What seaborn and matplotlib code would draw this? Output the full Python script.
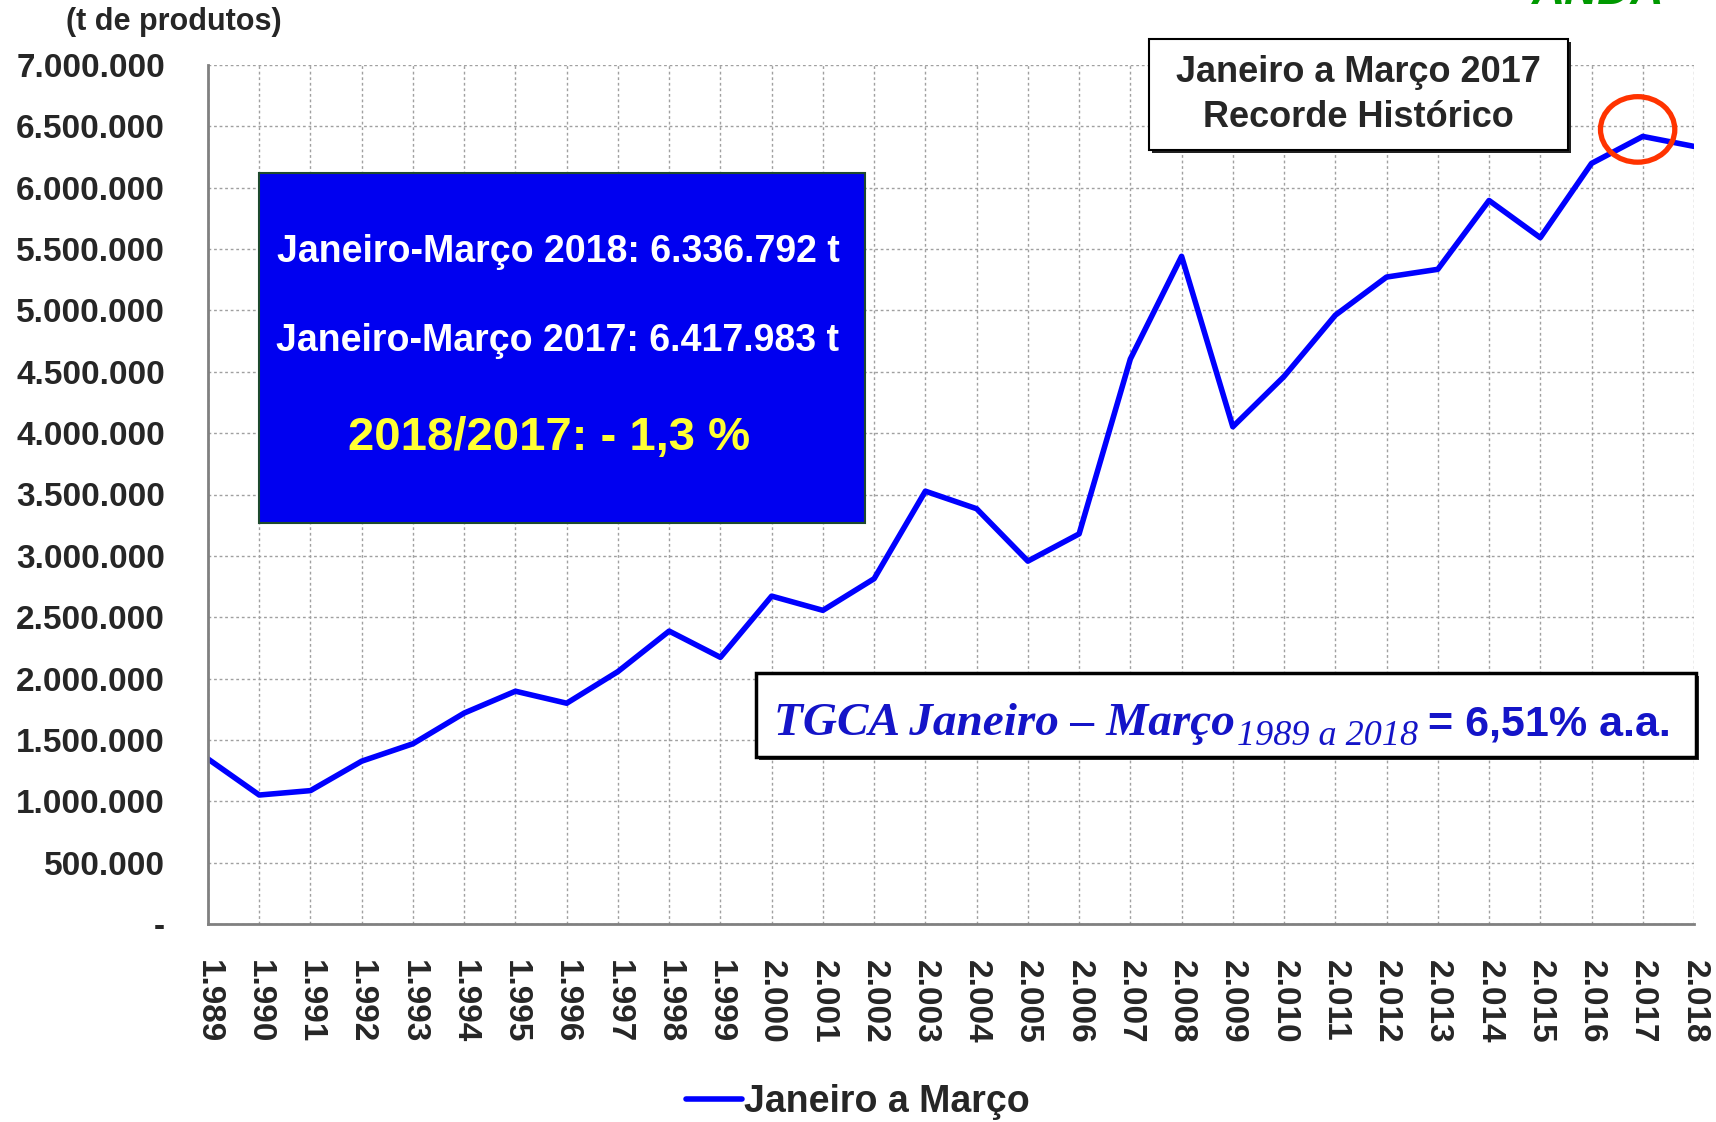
import matplotlib
matplotlib.use('Agg')
import matplotlib.pyplot as plt
import numpy as np
import pandas as pd
import seaborn as sns
from matplotlib import font_manager
from matplotlib.patches import Ellipse, Rectangle
from matplotlib.ticker import FuncFormatter, MultipleLocator

# data (t de produtos, janeiro a março)
years = list(range(1989, 2019))
toneladas = [1345000, 1051000, 1087000, 1327000, 1469000, 1719000, 1897000,
             1799000, 2057000, 2387000, 2173000, 2672000, 2556000, 2814000,
             3527000, 3384000, 2957000, 3179000, 4604000, 5441000, 4052000,
             4462000, 4961000, 5272000, 5335000, 5896000, 5593000, 6198000,
             6417983, 6336792]
serie_nome = 'Janeiro a Março'
txt_2018 = 'Janeiro-Março 2018: 6.336.792 t'
txt_2017 = 'Janeiro-Março 2017: 6.417.983 t'
txt_var = '2018/2017: - 1,3 %'
txt_recorde = 'Janeiro a Março 2017\nRecorde Histórico'

sns.set_style('white')
plt.rcParams['font.family'] = ['Liberation Sans', 'DejaVu Sans']
plt.rcParams['font.weight'] = 'bold'

names = {f.name for f in font_manager.fontManager.ttflist}
narrow = 'Liberation Sans Narrow' if 'Liberation Sans Narrow' in names else 'Liberation Sans'

W, H = 1716, 1122
fig = plt.figure(figsize=(W / 100, H / 100), dpi=100)
ax = fig.add_axes([208 / W, 1 - 924 / H, (1694 - 208) / W, (924 - 65) / H])

df = pd.DataFrame({'ano': years, 'valor': toneladas})
sns.lineplot(data=df, x='ano', y='valor', ax=ax, color='#0000FF', lw=4,
             label=serie_nome, legend=False)

ax.set_xlim(1989, 2018)
ax.set_ylim(0, 7000000)
ax.xaxis.set_major_locator(MultipleLocator(1))
ax.yaxis.set_major_locator(MultipleLocator(500000))


def fmt_y(v, pos):
    if v == 0:
        return '-'
    return '{:,.0f}'.format(v).replace(',', '.')


def fmt_x(v, pos):
    return '{:,.0f}'.format(v).replace(',', '.')


ax.yaxis.set_major_formatter(FuncFormatter(fmt_y))
ax.xaxis.set_major_formatter(FuncFormatter(fmt_x))
ax.tick_params(axis='y', labelsize=24, length=7, width=1.5, color='#808080', pad=24)
ax.tick_params(axis='x', labelsize=24, length=10, width=1.5, color='#808080',
               pad=16, labelrotation=270)
for lab in ax.get_xticklabels():
    lab.set_va('top')
    lab.set_ha('center')

ax.grid(True, color='#A0A0A0', ls=(0, (2, 2)), lw=1)
for s in ['top', 'right']:
    ax.spines[s].set_visible(False)
for s in ['left', 'bottom']:
    ax.spines[s].set_color('#808080')
    ax.spines[s].set_linewidth(2)
ax.set_xlabel('')
ax.set_ylabel('')

# red circle on 2017 record
ax.add_patch(Ellipse((2016.9, 6475000), 1.45, 534000, fill=False,
                     ec='#FF3300', lw=3.8, zorder=5))

fig.text(66 / W, 1 - 22 / H, '(t de produtos)', fontsize=22, va='center', ha='left')
fig.text(1532 / W, 1 - 4 / H, 'ANDA', fontsize=33, color='#009900',
         style='italic', va='baseline', ha='left')

# blue box
fig.patches.append(Rectangle((259 / W, 1 - 523 / H), 606 / W, 350 / H,
                             transform=fig.transFigure, fc='#0000F0',
                             ec='#1E4A2E', lw=1.5, zorder=3))
fig.text(558 / W, 1 - 252 / H, txt_2018, color='white', fontsize=27,
         ha='center', va='center', zorder=4)
fig.text(558 / W, 1 - 341 / H, txt_2017, color='white', fontsize=27,
         ha='center', va='center', zorder=4)
fig.text(549 / W, 1 - 438 / H, txt_var, color='#FFFF33', fontsize=34,
         ha='center', va='center', zorder=4)

# record box
fig.patches.append(Rectangle((1152 / W, 1 - 153 / H), 419 / W, 111 / H,
                             transform=fig.transFigure, fc='#202020', ec='none', zorder=3))
fig.patches.append(Rectangle((1149 / W, 1 - 150 / H), 419 / W, 111 / H,
                             transform=fig.transFigure, fc='white', ec='black',
                             lw=1.5, zorder=3))
fig.text(1358 / W, 1 - 95 / H, txt_recorde, fontsize=26, ha='center',
         va='center', linespacing=1.38, zorder=4)

# TGCA box
fig.patches.append(Rectangle((759 / W, 1 - 760 / H), 940 / W, 84 / H,
                             transform=fig.transFigure, fc='#303030', ec='none', zorder=3))
fig.patches.append(Rectangle((756 / W, 1 - 757 / H), 940 / W, 84 / H,
                             transform=fig.transFigure, fc='white', ec='black',
                             lw=2.5, zorder=3))
tg_col = '#1414C8'
renderer = fig.canvas.get_renderer()
base_y = 1 - 735 / H
t1 = fig.text(774 / W, base_y, 'TGCA Janeiro – Março', fontsize=34,
              family='Liberation Serif', style='italic', color=tg_col,
              va='baseline', zorder=4)
bb = t1.get_window_extent(renderer)
t2 = fig.text(bb.x1 / W + 2 / W, 1 - 745 / H, '1989 a 2018', fontsize=26,
              family='Liberation Serif', style='italic', weight='normal',
              color=tg_col, va='baseline', zorder=4)
bb = t2.get_window_extent(renderer)
fig.text(bb.x1 / W + 10 / W, base_y, '= 6,51% a.a.', fontsize=38 if narrow != 'Liberation Sans' else 31,
         family=narrow, color=tg_col, va='baseline', zorder=4)

# legend
h, l = ax.get_legend_handles_labels()
fig.legend(h, l, loc='center', bbox_to_anchor=(858 / W, 1 - 1102 / H),
           frameon=False, handlelength=1.5, handletextpad=0.05,
           prop={'family': narrow, 'weight': 'bold',
                 'size': 31 if narrow != 'Liberation Sans' else 27})

fig.savefig('out.png', dpi=100)
